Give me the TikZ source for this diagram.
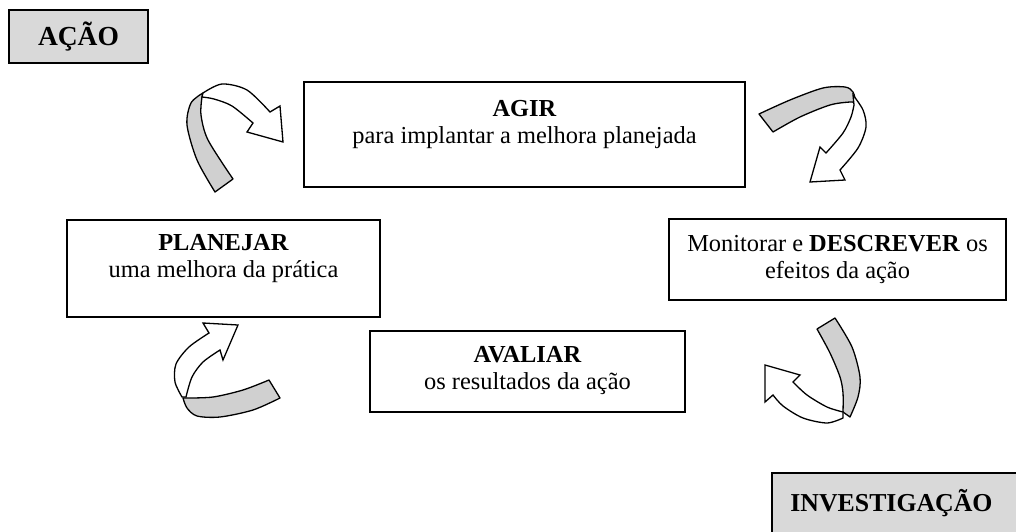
\documentclass[tikz,border=0pt]{standalone}
\usepackage{fontspec}
\setmainfont{Liberation Serif}
\definecolor{bandgray}{RGB}{208,208,208}
\definecolor{headgray}{RGB}{217,217,217}
\begin{document}
\begin{tikzpicture}[x=1pt,y=-1pt,
  box/.style={draw=black, line width=1.4pt, fill=white, rectangle, inner sep=0pt},
  txt/.style={align=center, font=\fontsize{24.4}{27}\selectfont, inner sep=0pt},
  head/.style={draw=black, line width=1.8pt, fill=headgray, rectangle, inner sep=0pt,
    font=\fontsize{27.5}{30}\selectfont\bfseries},
  band/.style={fill=bandgray, draw=black, line width=1.3pt, line join=round},
  wharrow/.style={fill=white, draw=black, line width=1.3pt, line join=miter}]
\useasboundingbox (0,0) rectangle (1016,532);
\clip (0,0) rectangle (1016,532);

% header boxes
\node[head, minimum width=139pt, minimum height=53pt] (acao) at (78.5,36.5) {AÇÃO};
\node[head, minimum width=262pt, minimum height=86pt] (invbox) at (903,516) {};
\node[font=\fontsize{25.8}{30}\selectfont\bfseries, inner sep=0pt] (inv) at (891.5,503) {INVESTIGAÇÃO};

% step boxes
\node[box, minimum width=441pt, minimum height=105pt] (agir) at (524.5,134.5) {};
\node[txt] (agirt) at (524.5,125) {\textbf{AGIR}\\para implantar a melhora planejada};

\node[box, minimum width=313pt, minimum height=97pt] (plan) at (223.5,268.5) {};
\node[txt] (plant) at (223.5,259) {\textbf{PLANEJAR}\\uma melhora da prática};

\node[box, minimum width=337pt, minimum height=81pt] (mon) at (837.5,259.5) {};
\node[txt] (mont) at (837.5,260) {Monitorar e \textbf{DESCREVER} os\\efeitos da ação};

\node[box, minimum width=315pt, minimum height=81pt] (aval) at (527.5,371.5) {};
\node[txt] (avalt) at (527.5,371) {\textbf{AVALIAR}\\os resultados da ação};

% curved arrow 1 (top left)
\filldraw[band] plot[smooth] coordinates {(215,192) (197,160) (187,125) (191,103) (203,93)}
  -- plot[smooth] coordinates {(202,97) (201,115) (208,140) (233,179)} -- cycle;
\filldraw[wharrow] plot[smooth] coordinates {(203,93) (222,84) (247,90) (270,112)}
  -- (280,106) -- (283,142) -- (247,132)
  -- plot[smooth] coordinates {(253,123) (232,106) (214,99) (202,97)} -- cycle;

% curved arrow 2 (top right)
\filldraw[band] plot[smooth] coordinates {(759,114) (790,100) (823,88) (845,87) (853,92) (856,103)}
  -- plot[smooth] coordinates {(856,103) (850,102) (830,105) (800,117) (773,132)} -- cycle;
\filldraw[wharrow] plot[smooth] coordinates {(853,95) (863,110) (866,127) (858,148) (840,170)}
  -- (845,180) -- (810,182) -- (820,147)
  -- plot[smooth] coordinates {(826,153) (843,133) (851,117) (854,105)} -- cycle;

% curved arrow 3 (bottom left)
\filldraw[band] plot[smooth] coordinates {(269,380) (243,390) (213,397) (186,398)}
  -- plot[smooth] coordinates {(183,398) (187,408) (197,416) (220,417) (253,410) (280,398)} -- cycle;
\filldraw[wharrow] plot[smooth] coordinates {(182,397) (175,382) (176,364) (189,347) (209,333)}
  -- (203,323) -- (238,325) -- (223,360)
  -- plot[smooth] coordinates {(220,350) (203,362) (192,377) (186,397)} -- cycle;

% curved arrow 4 (bottom right)
\filldraw[band] plot[smooth] coordinates {(817,329) (830,353) (840,377) (843,393) (843,412)}
  -- plot[smooth] coordinates {(850,417) (858,397) (860,377) (852,347) (835,318)} -- cycle;
\filldraw[wharrow] plot[smooth] coordinates {(843,418) (827,423) (803,418) (783,406) (773,395)}
  -- (765,402) -- (765,365) -- (800,375)
  -- plot[smooth] coordinates {(793,382) (807,395) (827,407) (843,412)} -- cycle;
\end{tikzpicture}
\end{document}
